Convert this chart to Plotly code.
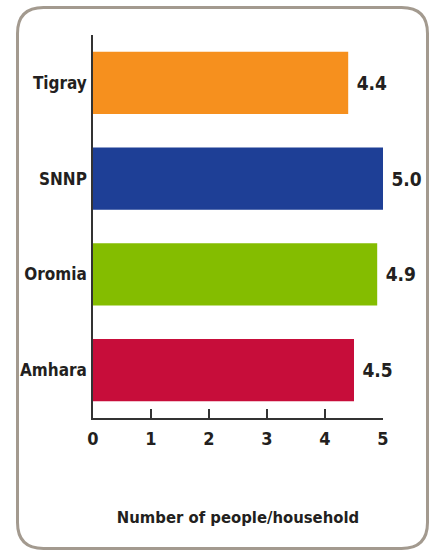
import plotly.graph_objects as go

regions = ["Tigray", "SNNP", "Oromia", "Amhara"]
household_size = [4.4, 5.0, 4.9, 4.5]
value_labels = ["4.4", "5.0", "4.9", "4.5"]
bar_colors = ["#F6901E", "#1E3F96", "#84BD00", "#C70D3A"]
x_ticks = [0, 1, 2, 3, 4, 5]
x_title = "Number of people/household"

W, H = 431, 551
L, R, T, B = 93, 383, 35, 418  # plot area in pixels
FONT = "DejaVu Sans Condensed, Liberation Sans Narrow, sans-serif"
INK = "#231F20"

fig = go.Figure(go.Bar(
    y=regions,
    x=household_size,
    orientation="h",
    marker=dict(color=bar_colors, line=dict(width=0)),
    width=0.65,
    text=value_labels,
    texttemplate="\u00a0<b>%{text}</b>",
    textposition="outside",
    textfont=dict(family=FONT, size=19, color=INK),
    cliponaxis=False,
    hoverinfo="skip",
))

def px(x):
    return (x - L) / (R - L)

def py(y):
    return (B - y) / (B - T)

# rounded border box (pixel coords converted to paper coords)
x0, x1, y0, y1, r = 17.5, 427.5, 7.5, 548.5, 26
path = (
    f"M {px(x0+r)},{py(y0)} L {px(x1-r)},{py(y0)} "
    f"Q {px(x1)},{py(y0)} {px(x1)},{py(y0+r)} "
    f"L {px(x1)},{py(y1-r)} Q {px(x1)},{py(y1)} {px(x1-r)},{py(y1)} "
    f"L {px(x0+r)},{py(y1)} Q {px(x0)},{py(y1)} {px(x0)},{py(y1-r)} "
    f"L {px(x0)},{py(y0+r)} Q {px(x0)},{py(y0)} {px(x0+r)},{py(y0)} Z"
)

fig.update_layout(
    width=W, height=H,
    margin=dict(l=L, r=W - R, t=T, b=H - B, autoexpand=False),
    paper_bgcolor="white", plot_bgcolor="white",
    showlegend=False,
    font=dict(family=FONT, color=INK),
    shapes=[dict(type="path", xref="paper", yref="paper", path=path,
                 line=dict(color="#A39A8F", width=3), layer="below")],
    xaxis=dict(
        range=[0, 5], tickvals=x_ticks,
        ticktext=["<b>" + str(v) + "</b>" for v in x_ticks],
        showgrid=False, zeroline=False,
        showline=True, linecolor="#333333", linewidth=1.5,
        ticks="inside", ticklen=9, tickwidth=1.5, tickcolor="#333333",
        ticklabelstandoff=4,
        tickfont=dict(family=FONT, size=18, color=INK),
        title=dict(text="<b>" + x_title + "</b>", standoff=63,
                   font=dict(family=FONT, size=16.5, color=INK)),
        automargin=False,
        fixedrange=True,
    ),
    yaxis=dict(
        categoryorder="array", categoryarray=regions[::-1],
        tickvals=regions, ticktext=["<b>" + g + "</b>" for g in regions],
        range=[-0.5, 3.5],
        showgrid=False, zeroline=False,
        showline=True, linecolor="#333333", linewidth=1.5,
        ticks="", ticklabelstandoff=1,
        tickfont=dict(family=FONT, size=17, color=INK),
        automargin=False,
        fixedrange=True,
    ),
)

fig.write_html("out.html", config={"displayModeBar": False},
               post_script="document.body.style.margin='0';document.body.style.overflow='hidden';")
